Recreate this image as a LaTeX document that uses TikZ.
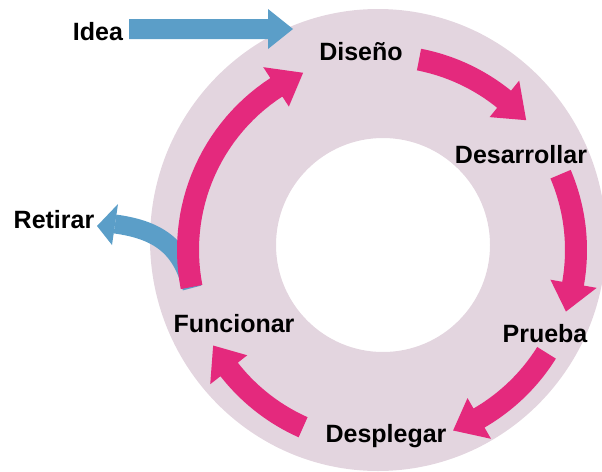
\documentclass[tikz,border=0pt]{standalone}
\usepackage{fontspec}
\setmainfont{Liberation Sans}
\definecolor{ringc}{HTML}{E3D5DF}
\definecolor{pinkc}{HTML}{E4297D}
\definecolor{bluec}{HTML}{5B9EC8}
% curved block arrow on circle centre (382,250), radius 194
\newcommand{\pinkarrow}[3]{%
  \fill[pinkc] plot[domain=#1:#2, samples=30] ({382+183*cos(\x)}, {250+183*sin(\x)})
    -- ({382+171*cos(#2)}, {250+171*sin(#2)})
    -- ({382+194*cos(#3)}, {250+194*sin(#3)})
    -- ({382+218*cos(#2)}, {250+218*sin(#2)})
    -- plot[domain=#2:#1, samples=30] ({382+205*cos(\x)}, {250+205*sin(\x)}) -- cycle;}
\begin{document}
\begin{tikzpicture}[x=1pt,y=-1pt,
  lab/.style={font=\fontsize{25}{30}\selectfont\bfseries, anchor=base, inner sep=0pt}]
\useasboundingbox (0,0) rectangle (602,471);
% ring
\fill[ringc, even odd rule] (378,240) ellipse[x radius=228, y radius=231]
   (383,245) circle[radius=107];
% blue arrows
\fill[bluec] (129,19) -- (268,19) -- (268,9) -- (293,29) -- (268,49) -- (268,39) -- (129,39) -- cycle;
\draw[bluec, line width=19pt] (192,288) .. controls (182,248) and (160,230) .. (115,224);
\fill[bluec] (118,204) -- (97,226) -- (112,245) -- cycle;
% pink cycle arrows
\pinkarrow{-79}{-51}{-42}
\pinkarrow{-23}{10}{18.5}
\pinkarrow{32}{60}{68.5}
\pinkarrow{114}{142}{150.5}
\pinkarrow{169}{237}{246}
% labels
\node[lab] (idea) at (98,40) {Idea};
\node[lab] (diseno) at (361,60) {Diseño};
\node[lab] (desarrollar) at (521,163) {Desarrollar};
\node[lab] (prueba) at (545,342) {Prueba};
\node[lab] (desplegar) at (386,442) {Desplegar};
\node[lab] (funcionar) at (234,332) {Funcionar};
\node[lab] (retirar) at (54,228) {Retirar};
\end{tikzpicture}
\end{document}
